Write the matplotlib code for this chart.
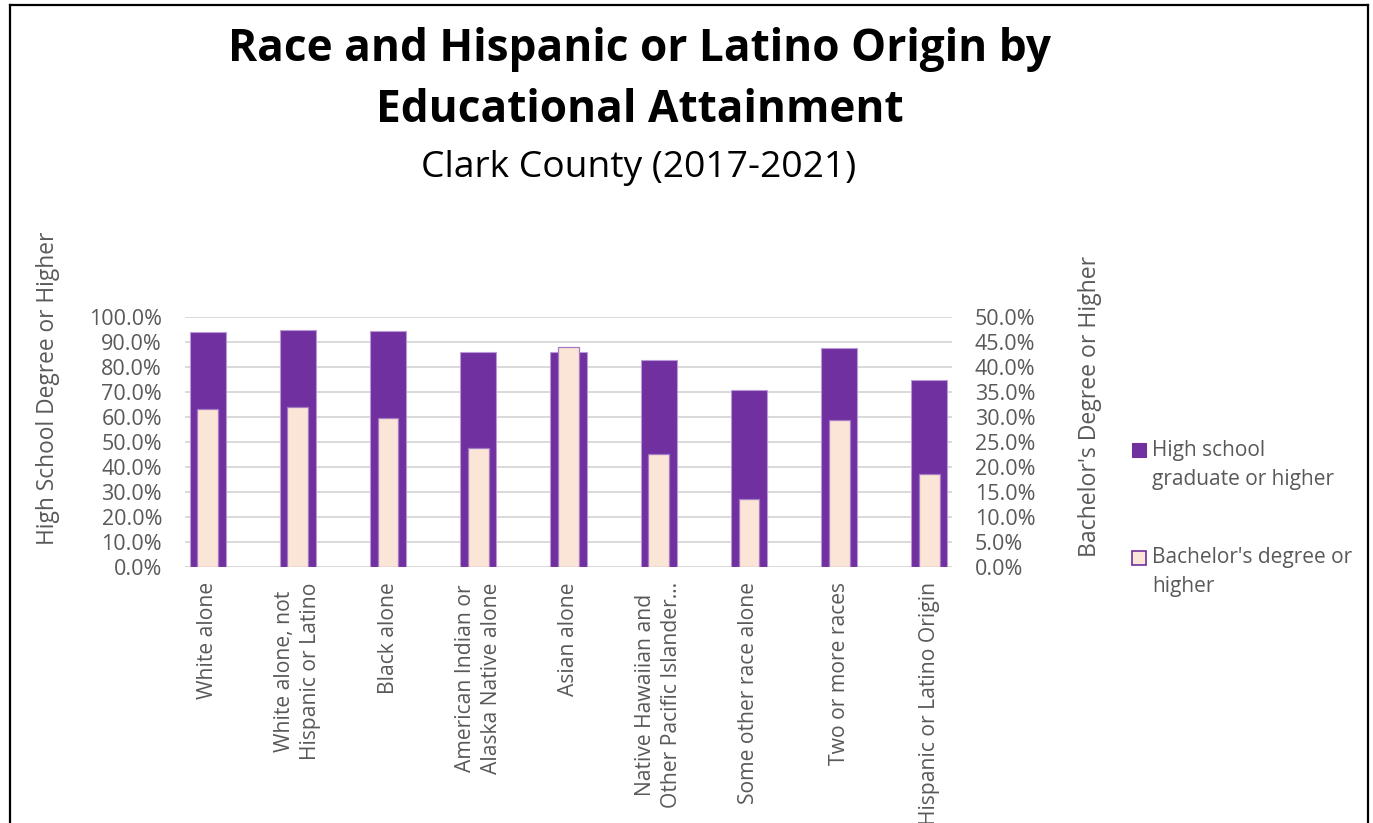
import matplotlib
matplotlib.use("Agg")
import matplotlib.pyplot as plt
from matplotlib.patches import Rectangle
from matplotlib.lines import Line2D
from matplotlib.ticker import FuncFormatter, MultipleLocator

plt.rcParams['font.family'] = ['Open Sans', 'DejaVu Sans']

categories = [
    "White alone",
    "White alone, not\nHispanic or Latino",
    "Black alone",
    "American Indian or\nAlaska Native alone",
    "Asian alone",
    "Native Hawaiian and\nOther Pacific Islander\u2026",
    "Some other race alone",
    "Two or more races",
    "Hispanic or Latino Origin",
]
high_school = [93.9, 94.7, 94.3, 86.1, 85.9, 82.9, 70.9, 87.6, 74.8]
bachelors = [31.6, 32.1, 29.8, 23.9, 44.1, 22.7, 13.7, 29.5, 18.7]

PURPLE = "#7030A0"
PEACH = "#FBE5D6"
GRID = "#D9D9D9"
TXT = "#595959"

W, H = 1373, 823
fig = plt.figure(figsize=(W / 100, H / 100), dpi=100)

def fx(px):
    return px / W

def fy(py):
    return 1 - py / H

ax = fig.add_axes([fx(185), fy(567), fx(952) - fx(185), fy(317) - fy(567)])
ax2 = ax.twinx()

x = list(range(len(categories)))
ax.bar(x, high_school, width=0.4, color=PURPLE, edgecolor="#B99AD6", linewidth=0.8, zorder=2)
ax2.bar(x, bachelors, width=0.23, color=PEACH, edgecolor="#A27BC4", linewidth=0.9, zorder=3)

ax.set_xlim(-0.25, 8.25)
ax.set_ylim(0, 100)
ax2.set_ylim(0, 50)
ax.yaxis.set_major_locator(MultipleLocator(10))
ax2.yaxis.set_major_locator(MultipleLocator(5))
pct = FuncFormatter(lambda v, p: f"{v:.1f}%")
ax.yaxis.set_major_formatter(pct)
ax2.yaxis.set_major_formatter(pct)

ax.grid(axis="y", color=GRID, linewidth=1.4, zorder=0)
ax.set_axisbelow(True)
for a in (ax, ax2):
    for s in a.spines.values():
        s.set_visible(False)
    a.tick_params(axis="both", length=0, labelcolor=TXT, labelsize=15.5)
ax.tick_params(axis="y", pad=16.5)
ax2.tick_params(axis="y", pad=16.5)

ax.set_xticks(x)
ax.set_xticklabels(categories, rotation=90, va="top", ha="center",
                   fontsize=15.2, color=TXT, linespacing=1.32)
ax.tick_params(axis="x", pad=11)

fig.text(fx(48), fy(388), "High School Degree or Higher", rotation=90,
         ha="center", va="center", fontsize=16.4, color=TXT)
fig.text(fx(1090), fy(406), "Bachelor's Degree or Higher", rotation=90,
         ha="center", va="center", fontsize=16.6, color=TXT)

fig.text(fx(640), fy(50), "Race and Hispanic or Latino Origin by", ha="center",
         va="center", fontsize=31.8, fontweight="bold", color="black")
fig.text(fx(640), fy(111), "Educational Attainment", ha="center",
         va="center", fontsize=31.8, fontweight="bold", color="black")
fig.text(fx(639), fy(168), "Clark County (2017-2021)", ha="center",
         va="center", fontsize=26.8, color="black")

# legend
fig.patches.append(Rectangle((fx(1132), fy(457)), fx(14), 14 / H, transform=fig.transFigure,
                             facecolor=PURPLE, edgecolor=PURPLE, linewidth=0.8))
fig.patches.append(Rectangle((fx(1132), fy(565)), fx(14), 14 / H, transform=fig.transFigure,
                             facecolor=PEACH, edgecolor=PURPLE, linewidth=1.2))
fig.text(fx(1152), fy(465), "High school\ngraduate or higher", ha="left", va="center",
         fontsize=15, color=TXT, linespacing=1.48)
fig.text(fx(1152), fy(572), "Bachelor's degree or\nhigher", ha="left", va="center",
         fontsize=15, color=TXT, linespacing=1.48)

# outer frame
for xs, ys in [((10, 10), (5, 823)), ((1368, 1368), (5, 823)), ((10, 1368), (5, 5))]:
    fig.lines.append(Line2D([fx(v) for v in xs], [fy(v) for v in ys],
                            transform=fig.transFigure, color="black", linewidth=1.6))

fig.savefig("out.png", dpi=100)
